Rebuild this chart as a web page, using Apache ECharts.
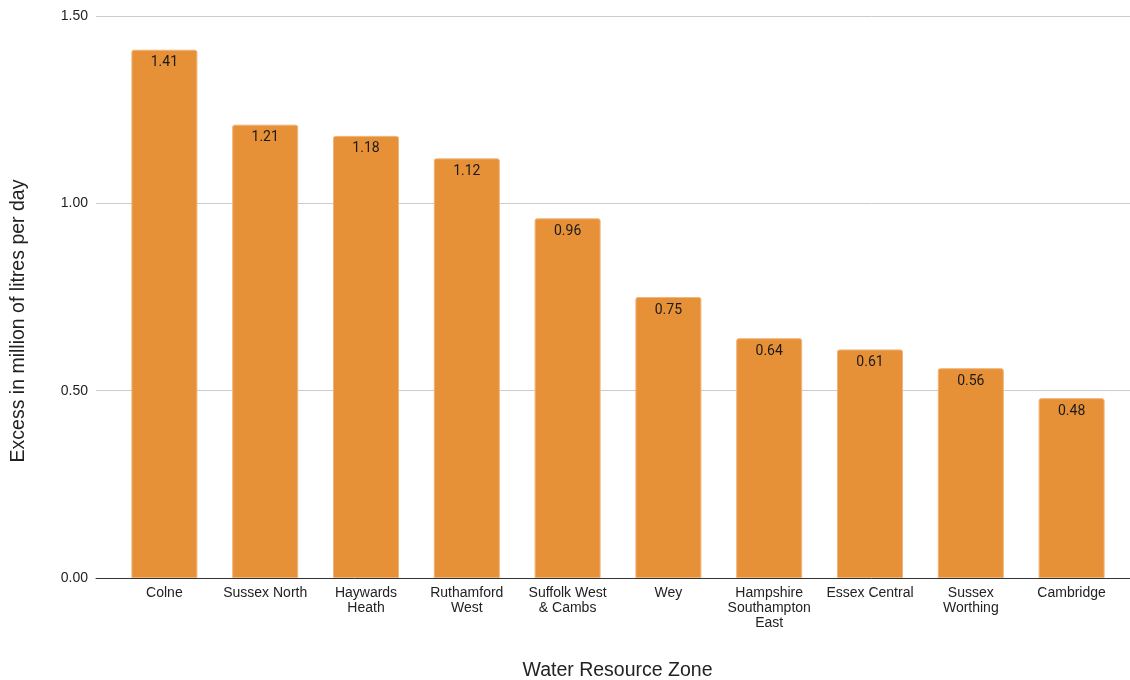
<!DOCTYPE html>
<html>
<head>
<meta charset="utf-8">
<script src="https://cdn.jsdelivr.net/npm/echarts@6/dist/echarts.min.js"></script>
<style>html,body{margin:0;padding:0;background:#fff}#c{width:1130px;height:680px}</style>
</head>
<body>
<div id="c"></div>
<script>
const categories = ['Colne', 'Sussex North', 'Haywards\nHeath', 'Ruthamford\nWest', 'Suffolk West\n& Cambs', 'Wey', 'Hampshire\nSouthampton\nEast', 'Essex Central', 'Sussex\nWorthing', 'Cambridge'];
const values = [1.41, 1.21, 1.18, 1.12, 0.96, 0.75, 0.64, 0.61, 0.56, 0.48];
const yTicks = [0, 0.5, 1.0, 1.5];

const chart = echarts.init(document.getElementById('c'));
const axisFont = 'Liberation Sans, Arial, sans-serif';
chart.setOption({
  animation: false,
  grid: [
    {left: 96, right: 0, top: 16, bottom: 102, containLabel: false, outerBoundsMode: 'none'},
    {left: 114, right: 8, top: 16, bottom: 102, containLabel: false, outerBoundsMode: 'none'}
  ],
  xAxis: [
    {gridIndex: 0, type: 'value', min: 0, max: 1,
     axisLine: {show: true, onZero: false, lineStyle: {color: '#333', width: 1}},
     axisTick: {show: false}, axisLabel: {show: false}, splitLine: {show: false},
     name: 'Water Resource Zone', nameLocation: 'middle', nameGap: 83,
     nameTextStyle: {fontFamily: axisFont, fontSize: 19.5, color: '#222', padding: [0, 0, 0, 9]}, z: 5},
    {gridIndex: 1, type: 'category', data: categories,
     axisLine: {show: false}, axisTick: {show: false},
     axisLabel: {interval: 0, margin: 8, fontFamily: axisFont, fontSize: 14, color: '#222', lineHeight: 15}}
  ],
  yAxis: [
    {gridIndex: 0, type: 'value', min: yTicks[0], max: yTicks[yTicks.length-1], interval: 0.5,
     axisLine: {show: false}, axisTick: {show: false},
     axisLabel: {margin: 8, fontFamily: axisFont, fontSize: 14, color: '#222', formatter: v => v.toFixed(2)},
     splitLine: {lineStyle: {color: '#cccccc', width: 1}},
     name: 'Excess in million of litres per day', nameLocation: 'middle', nameGap: 67,
     nameTextStyle: {fontFamily: axisFont, fontSize: 19.5, color: '#222', padding: [0, 48, 0, 0]}},
    {gridIndex: 1, type: 'value', min: 0, max: 1.5, show: false}
  ],
  series: [{
    type: 'bar', xAxisIndex: 1, yAxisIndex: 1, data: values, barWidth: '65.5%',
    itemStyle: {color: '#E69138', borderColor: '#F1B57A', borderWidth: 1, borderRadius: [2, 2, 0, 0]},
    label: {show: true, position: 'insideTop', distance: 6, fontFamily: 'Roboto, sans-serif', fontSize: 14, color: '#1a1a1a',
      formatter: p => p.value.toFixed(2)},
    z: 3
  }]
});
</script>
</body>
</html>
